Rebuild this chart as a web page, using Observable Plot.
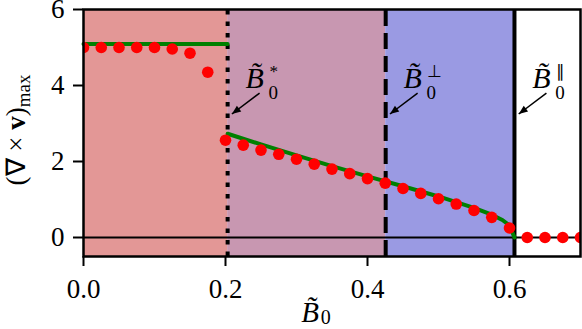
<!DOCTYPE html>
<html><head><meta charset="utf-8">
<script src="https://cdn.jsdelivr.net/npm/d3@7"></script>
<script src="https://cdn.jsdelivr.net/npm/@observablehq/plot@0.6"></script>
<style>body{margin:0;background:#fff} svg{display:block}</style>
</head><body><div id="chart"></div>
<script>
// Simulation points (red dots)
const dotX = [0,0.025,0.05,0.075,0.1,0.125,0.15,0.175,0.2,0.225,0.25,0.275,0.3,0.325,0.35,0.375,0.4,0.425,0.45,0.475,0.5,0.525,0.55,0.575,0.6,0.625,0.65,0.675,0.7];
const dotY = [5.0,5.0,5.0,5.0,5.0,4.96,4.85,4.35,2.56,2.43,2.30,2.19,2.06,1.93,1.80,1.68,1.55,1.43,1.29,1.16,1.02,0.88,0.71,0.53,0.25,0,0,0,0];
// Theory curve (green), two branches
const greenX1 = [0, 0.203];
const greenY1 = [5.09, 5.09];
const greenX2 = [0.203,0.25,0.3,0.35,0.4,0.45,0.5,0.55,0.575,0.59,0.6,0.607];
const greenY2 = [2.73,2.45,2.16,1.88,1.61,1.35,1.08,0.78,0.60,0.46,0.32,0.0];
// Thresholds B0*, B0perp, B0par
const thresholds = [0.203, 0.4256, 0.607];
const thresholdSup = ["*", "\u22A5", "\u2225"];
const regionStart = [0, 0.203, 0.4256];
const regionEnd = [0.203, 0.4256, 0.607];
const regionColors = ["#e39796", "#c897b1", "#9a9ae3"];
const xTicks = [0, 0.2, 0.4, 0.6];
const yTicks = [0, 2, 4, 6];

const dots = dotX.map((x, i) => ({x, y: dotY[i]}));
const green = [
  ...greenX1.map((x, i) => ({x, y: greenY1[i], b: 1})),
  ...greenX2.map((x, i) => ({x, y: greenY2[i], b: 2}))
];
const regions = regionStart.map((s, i) => ({x1: s, x2: regionEnd[i], c: regionColors[i]}));
const ann = thresholds.map((t, i) => ({t, sup: thresholdSup[i]}));

const FONT = "'Liberation Serif', serif";
const plot = Plot.plot({
  width: 582, height: 329,
  marginLeft: 83, marginRight: 2, marginTop: 9, marginBottom: 73,
  style: {fontFamily: FONT, fontSize: "27px", background: "white", color: "black"},
  x: {domain: [0, 0.7]},
  y: {domain: [-0.5, 6]},
  marks: [
    Plot.rectY(regions, {x1: "x1", x2: "x2", y1: -0.5, y2: 6, fill: "c"}),
    Plot.ruleX([thresholds[0]], {y1: -0.5, y2: 6, stroke: "black", strokeWidth: 4, strokeDasharray: "4.5,7"}),
    Plot.ruleX([thresholds[1]], {y1: -0.5, y2: 6, stroke: "black", strokeWidth: 4, strokeDasharray: "16,7"}),
    Plot.ruleX([thresholds[2]], {y1: -0.5, y2: 6, stroke: "black", strokeWidth: 4}),
    Plot.ruleY([0], {stroke: "black", strokeWidth: 2}),
    Plot.line(green, {x: "x", y: "y", z: "b", stroke: "#008000", strokeWidth: 4}),
    Plot.dot(dots, {x: "x", y: "y", r: 5.8, fill: "#ff0000", clip: true}),
    Plot.link(ann, {x1: d => d.t + 0.045, y1: 3.8, x2: d => d.t + 0.006, y2: 3.25, stroke: "black", strokeWidth: 1.5}),
    Plot.text(ann, {x: d => d.t + 0.025, y: 3.93, text: () => "B\u0303", fontStyle: "italic", fontSize: 30, textAnchor: "start", lineAnchor: "bottom"}),
    Plot.text(ann, {x: d => d.t + 0.025, y: 3.93, text: () => "0", fontSize: 19, dx: 23, dy: 11, textAnchor: "start", lineAnchor: "bottom"}),
    Plot.text(ann, {x: d => d.t + 0.025, y: 3.93, text: "sup", fontSize: 17, dx: 24, dy: -11, textAnchor: "start", lineAnchor: "bottom"}),
    Plot.frame({stroke: "black", strokeWidth: 2.5}),
    Plot.axisX({ticks: xTicks, tickFormat: d => d.toFixed(1), tickSize: 10, tickPadding: 12, strokeWidth: 2, fontSize: 27, label: null}),
    Plot.axisY({ticks: yTicks, tickFormat: d => String(d), tickSize: 10, tickPadding: 9, strokeWidth: 2, fontSize: 27, label: null})
  ]
});

const svg = d3.select(plot);
// arrowheads
const defs = svg.insert("defs", ":first-child");
defs.append("marker").attr("id", "ahead").attr("viewBox", "0 -5 10 10")
  .attr("refX", 10).attr("refY", 0).attr("markerWidth", 11).attr("markerHeight", 9)
  .attr("markerUnits", "userSpaceOnUse").attr("orient", "auto")
  .append("path").attr("d", "M0,-4L10,0L0,4Z").attr("fill", "black");
svg.selectAll("g[aria-label='link'] path, g[aria-label='link'] line").attr("marker-end", "url(#ahead)");

// y label
const yl = svg.append("text").attr("transform", "translate(25,130) rotate(-90)")
  .attr("text-anchor", "middle").style("font-family", FONT).style("font-size", "27px");
yl.append("tspan").text("(\u2207 \u00D7 ");
yl.append("tspan").attr("font-weight", "bold").text("v");
yl.append("tspan").text(")");
yl.append("tspan").attr("font-size", "19px").attr("dy", 5).text("max");

// x label
const xl = svg.append("text").attr("transform", "translate(316,322)")
  .style("font-family", FONT).style("font-size", "29px");
xl.append("tspan").attr("font-style", "italic").text("B\u0303");
xl.append("tspan").attr("font-size", "20px").attr("dy", 2).attr("dx", 2).text("0");

document.getElementById("chart").appendChild(plot);
</script>
</body></html>
